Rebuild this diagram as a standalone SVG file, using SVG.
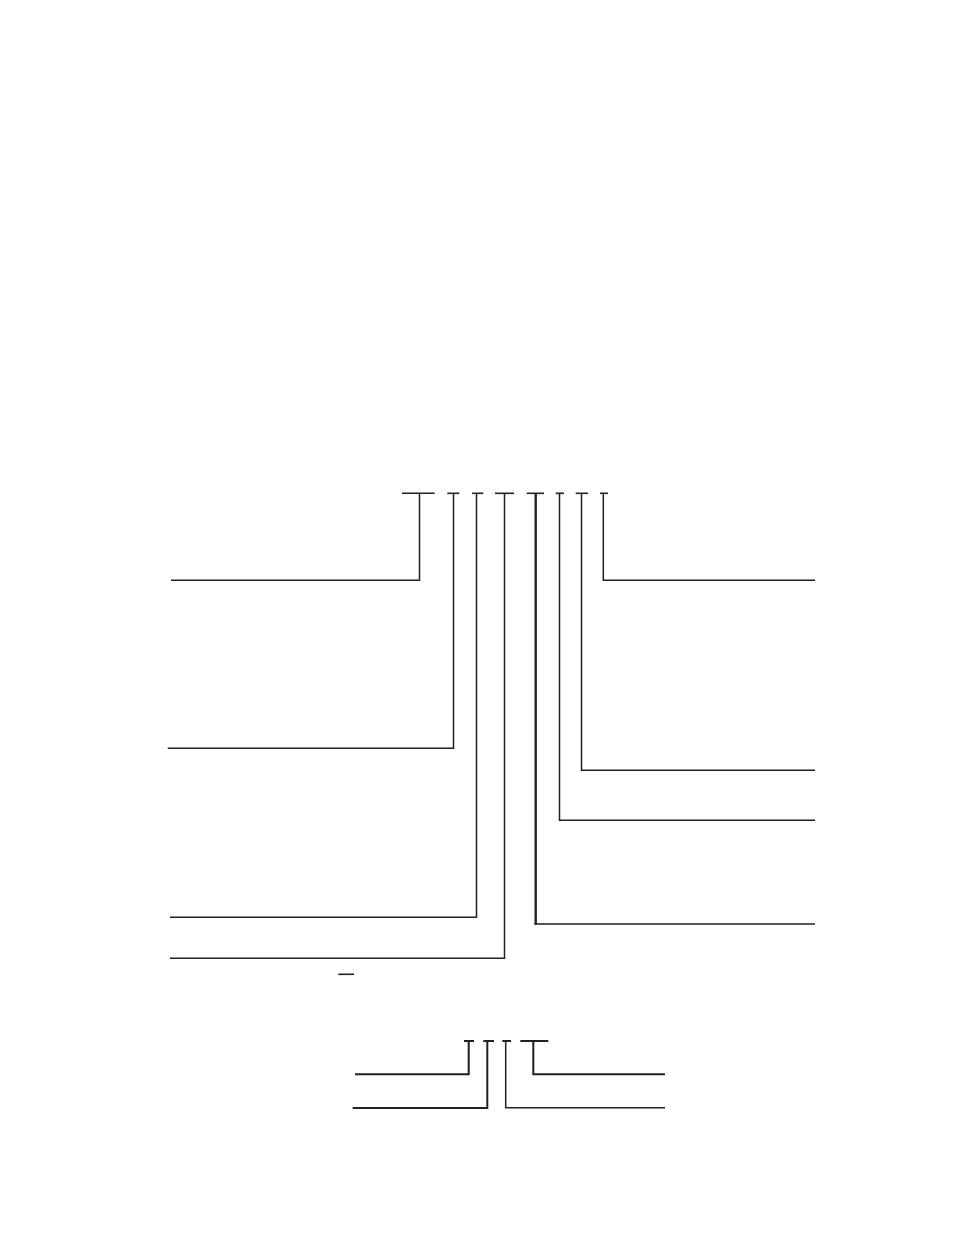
<svg xmlns="http://www.w3.org/2000/svg" width="954" height="1235" viewBox="0 0 954 1235">
<style>
.c{fill:none;stroke:#231f20;stroke-width:1.5;stroke-linecap:butt;stroke-linejoin:miter}
.b{fill:none;stroke:#231f20;stroke-width:1.6}
.t{stroke-width:2}
.k{stroke-width:2.4}
</style>
<rect width="954" height="1235" fill="#fff"/>
<g id="marks">
<line class="b" x1="402" y1="493.3" x2="434.7" y2="493.3"/>
<line class="b" x1="447.3" y1="493.3" x2="459.3" y2="493.3"/>
<line class="b" x1="472" y1="493.3" x2="483.3" y2="493.3"/>
<line class="b" x1="495" y1="493.3" x2="514" y2="493.3"/>
<line class="b" x1="526.7" y1="493.3" x2="544" y2="493.3"/>
<line class="b" x1="555.7" y1="493.3" x2="564" y2="493.3"/>
<line class="b" x1="575.7" y1="493.3" x2="588" y2="493.3"/>
<line class="b" x1="600" y1="493.3" x2="608" y2="493.3"/>
<line class="b" x1="338.3" y1="974.3" x2="354" y2="974.3"/>
<line class="b t" x1="464" y1="1041" x2="474" y2="1041"/>
<line class="b t" x1="483.3" y1="1041" x2="494" y2="1041"/>
<line class="b t" x1="502.3" y1="1041" x2="511" y2="1041"/>
<line class="b t" x1="520.3" y1="1041" x2="548.3" y2="1041"/>
</g>
<g id="connectors">
<polyline class="c" points="419.5,493.3 419.5,580.3 171,580.3"/>
<polyline class="c" points="453.5,493.3 453.5,748.3 167.7,748.3"/>
<polyline class="c" points="476.5,493.3 476.5,917.3 170,917.3"/>
<polyline class="c" points="504.5,493.3 504.5,958.3 170,958.3"/>
<line class="c k" x1="535.7" y1="493.3" x2="535.7" y2="924.8"/>
<line class="c" x1="534.5" y1="924" x2="815" y2="924"/>
<polyline class="c" points="559.5,493.3 559.5,820.3 815,820.3"/>
<polyline class="c" points="581.5,493.3 581.5,770.3 815,770.3"/>
<polyline class="c" points="603.3,493.3 603.3,580.3 815,580.3"/>
<polyline class="c t" points="468.7,1041 468.7,1074.3 355,1074.3"/>
<polyline class="c t" points="487.3,1041 487.3,1108 352.7,1108"/>
<polyline class="c" points="505.7,1041 505.7,1107.7 665,1107.7"/>
<polyline class="c t" points="533.3,1041 533.3,1074.3 665,1074.3"/>
</g>
</svg>
